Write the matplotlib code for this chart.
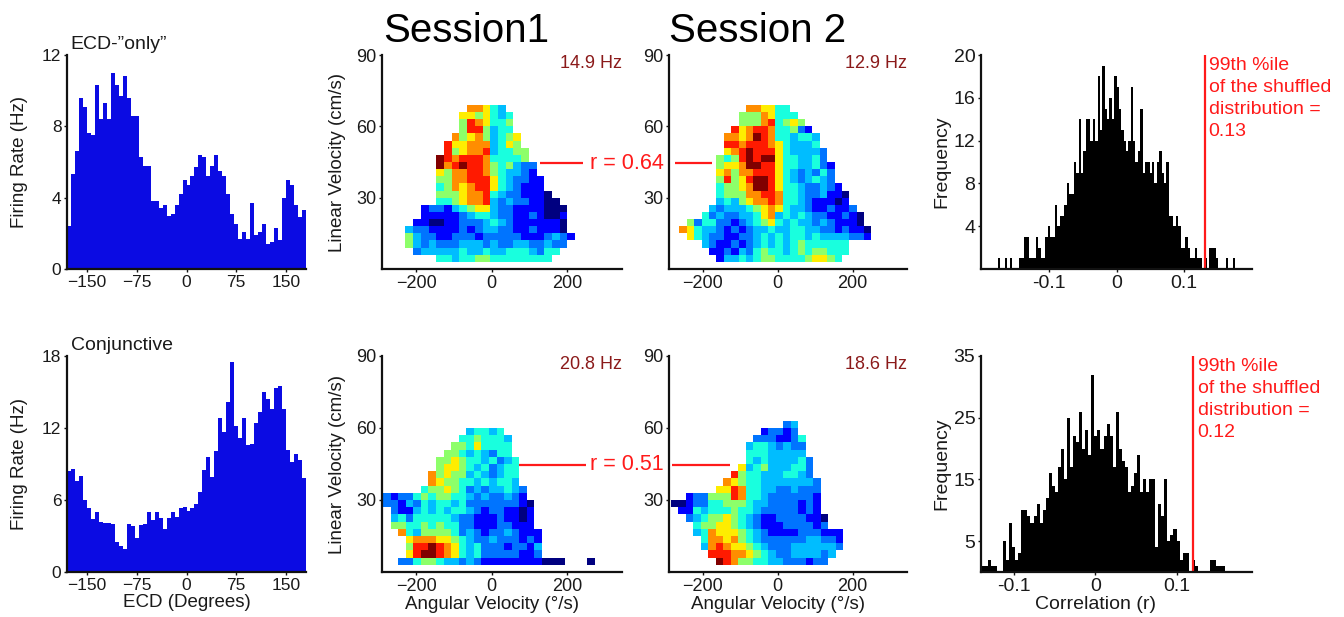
import numpy as np
import matplotlib
matplotlib.use("Agg")
import matplotlib.pyplot as plt

plt.rcParams['font.family'] = ['Liberation Sans', 'DejaVu Sans']

# ---------------- data ----------------
ecd_bin_width = 6  # degrees, 60 bins from -180 to 180
ecd_only_rate = [2.4, 5.3, 6.6, 9.6, 9.1, 7.6, 7.5, 10.3, 8.4, 9.3,
                 8.4, 11.0, 10.3, 9.7, 10.8, 9.6, 8.6, 8.6, 6.3, 5.8,
                 5.8, 3.8, 3.8, 3.4, 3.6, 3.0, 3.1, 3.6, 4.2, 5.0,
                 4.7, 5.2, 5.7, 6.4, 6.3, 5.2, 5.8, 6.4, 5.5, 5.2,
                 4.2, 3.1, 2.5, 1.7, 2.1, 1.7, 3.7, 1.9, 2.1, 2.5,
                 1.4, 1.5, 2.3, 1.6, 4.0, 5.0, 4.7, 3.6, 2.9, 3.3]
conj_rate = [8.4, 8.6, 7.6, 8.0, 6.0, 5.3, 4.4, 5.0, 4.2, 4.1,
             4.1, 4.0, 2.5, 2.2, 1.9, 4.0, 3.8, 2.8, 3.9, 4.0,
             5.0, 4.3, 5.0, 4.5, 3.6, 4.5, 5.0, 4.6, 5.3, 5.4,
             5.1, 5.3, 5.7, 6.7, 8.5, 9.6, 7.9, 10.1, 12.8, 11.7,
             14.2, 17.5, 12.2, 11.2, 12.8, 10.6, 10.7, 12.4, 13.3, 15.0,
             14.4, 13.6, 15.3, 15.5, 13.6, 10.2, 9.2, 9.8, 9.3, 7.8]

# shuffled-correlation histograms (counts per bin)
shuf1_range = (-0.175, 0.175)
shuf1_counts = [1, 0, 0, 1, 0, 1, 0, 0, 0, 1,
                1, 3, 3, 1, 1, 1, 3, 2, 1, 1,
                3, 4, 3, 3, 6, 4, 5, 5, 6, 8,
                7, 7, 10, 9, 14, 9, 11, 14, 14, 12,
                14, 12, 18, 13, 19, 15, 14, 16, 14, 18,
                17, 15, 13, 12, 11, 12, 17, 12, 10, 11,
                15, 9, 10, 10, 9, 10, 8, 10, 11, 9,
                8, 10, 5, 5, 4, 5, 4, 2, 2, 3,
                2, 1, 1, 2, 1, 1, 0, 1, 0, 2,
                2, 2, 1, 0, 0, 0, 1, 0, 0, 1]
shuf2_range = (-0.14, 0.16)
shuf2_counts = [1, 1, 2, 1, 1, 0, 0, 5, 2, 8,
                4, 2, 3, 10, 10, 9, 8, 9, 11, 8,
                10, 12, 16, 14, 13, 17, 20, 15, 25, 17,
                22, 21, 26, 20, 23, 19, 32, 22, 23, 20,
                22, 24, 22, 17, 26, 20, 18, 17, 13, 14,
                16, 19, 13, 15, 13, 15, 15, 4, 11, 9,
                15, 5, 6, 7, 5, 2, 3, 3, 0, 2,
                1, 0, 0, 0, 0, 2, 2, 1, 1, 1]
shuf_99th = [0.13, 0.12]
observed_r = [0.64, 0.51]

# rate maps: colour level (0-9, fraction of peak rate below), rows from top (fast) to bottom (slow)
level_frac = [0.0, 0.12, 0.24, 0.31, 0.38, 0.52, 0.66, 0.76, 0.88, 1.0]
peak_rate = [14.9, 12.9, 20.8, 18.6]
av_left = [-228, -262, -287, -285]      # deg/s, left edge of first column
av_bin = [20.4, 19.7, 20.0, 20.0]       # deg/s per column
lv_top = [69, 69, 60, 63]               # cm/s, top edge of first row
lv_bin = 3

map_ecd_s1 = [(8, "77643"), (7, "6656434"), (7, "5876445"), (7, "5885344"),
              (6, "756753456"), (5, "8667773465"), (5, "85677834455"),
              (4, "987888744445"), (4, "9789887545322"), (4, "6577887543321"),
              (4, "55778886432211"), (4, "45767886432111"), (4, "555677843221110"),
              (4, "4456778323221100"), (2, "1221345663221111000"),
              (2, "1111123443221121001"), (1, "11001122234321111110"),
              (0, "322111121233221121110"), (0, "5322112221222221112321"),
              (0, "532322233323223322322"), (1, "2333334334334443244"),
              (4, "443445544444444")]
map_ecd_s2 = [(9, "776644"), (8, "55576444"), (8, "555784565"), (7, "86788744521"),
              (6, "7767987443443"), (6, "8878887643334"), (6, "67898886433332"),
              (5, "545898996443342"), (5, "5667998864433421"), (5, "6757788864323242"),
              (5, "5856899864323432"), (5, "45567998644322321"),
              (5, "455577887443223110"), (5, "343567787443211101"),
              (4, "32333456764332112112"), (3, "4232233467343432211210"),
              (1, "524422123456434332321110"), (0, "76433212123343344332212110"),
              (1, "6432211223434344343333221"), (3, "32112123434345444444"),
              (4, "1121324544345455444"), (5, "13343455444456654")]
map_conj_s1 = [(11, "34434"), (10, "4454443"), (9, "55464444"), (8, "554343244"),
               (7, "55654434234"), (7, "56654342344"), (6, "756553432344"),
               (6, "765544343443"), (5, "45565423233432"),
               (0, "2122454554432322321"), (0, "22132434434222222210"),
               (1, "2113434344321221101"), (1, "3424444432211121101"),
               (1, "5544545442211122111"), (2, "7435555423212232111"),
               (3, "677766543223222121"), (3, "588987643422212213"),
               (3, "689987643422222112"), (2, "2245543323211111111000...0")]
map_conj_s2 = [(15, "23"), (12, "12212"), (11, "2221124"), (10, "34432322"),
               (10, "44433333"), (10, "434333342"), (9, "6345333442"),
               (8, "85443334432"), (7, "7654433333332"), (6, "66874433223222"),
               (2, "122555874432222221"), (0, "00122445554332222121"),
               (1, "1143444544322222121"), (2, "2345565432112222110"),
               (3, "455665432111222212"), (3, "34766654321111222111"),
               (4, "4776754322222233221"), (4, "3787665432223333332"),
               (5, "88877654322333323"), (6, "987554433222122")]
rate_maps = [map_ecd_s1, map_ecd_s2, map_conj_s1, map_conj_s2]

# ---------------- figure ----------------
W, H = 1344, 617
fig = plt.figure(figsize=(W / 100, H / 100), dpi=100)

def add_ax(l, t, w, h):
    return fig.add_axes([l / W, 1 - (t + h) / H, w / W, h / H])

col_l = [67, 382, 669, 981]
col_w = [239, 240, 238, 271]
row_t = [55, 356]
row_h = [214, 216]

TXT = '#1a1a1a'

def style(ax, tick_size):
    for s in ['top', 'right']:
        ax.spines[s].set_visible(False)
    for s in ['left', 'bottom']:
        ax.spines[s].set_linewidth(1.6)
        ax.spines[s].set_color('#111111')
    ax.tick_params(direction='out', length=2.5, width=1, labelsize=tick_size,
                   colors='#111111', labelcolor=TXT, pad=1.5)

axes = [[add_ax(col_l[c], row_t[r], col_w[c], row_h[r]) for c in range(4)] for r in range(2)]

# ECD firing-rate histograms
blue = '#0b0be3'
ecd_sets = [(ecd_only_rate, 12, [0, 4, 8, 12], 'ECD-\u201donly\u201d'),
            (conj_rate, 18, [0, 6, 12, 18], 'Conjunctive')]
for r, (vals, ymax, yt, name) in enumerate(ecd_sets):
    ax = axes[r][0]
    edges = np.arange(-180, 180 + ecd_bin_width, ecd_bin_width)
    ax.stairs(vals, edges, fill=True, color=blue, linewidth=0)
    ax.set_xlim(-180, 180)
    ax.set_ylim(0, ymax)
    ax.set_xticks([-150, -75, 0, 75, 150])
    ax.set_yticks(yt)
    style(ax, 12.5)
    ax.set_ylabel('Firing Rate (Hz)', fontsize=13.5, color=TXT)
    ax.yaxis.set_label_coords(-0.165, 0.5)
    ax.text(0.015, 1.03, name, transform=ax.transAxes, fontsize=14,
            color=TXT, ha='left', va='baseline')
axes[1][0].set_xlabel('ECD (Degrees)', fontsize=13.5, color=TXT, va='top')
axes[1][0].xaxis.set_label_coords(0.5, -0.1)

# rate maps
jet = plt.get_cmap('jet')
for i, rows in enumerate(rate_maps):
    r, c = divmod(i, 2)
    ax = axes[r][c + 1]
    ncols = max(s + len(txt) for s, txt in rows)
    nrows = len(rows)
    grid = np.full((nrows, ncols), np.nan)
    for k, (s, txt) in enumerate(rows):
        for j, ch in enumerate(txt):
            if ch != '.':
                grid[k, s + j] = level_frac[int(ch)] * peak_rate[i]
    grid = grid[::-1]
    xe = av_left[i] + av_bin[i] * np.arange(ncols + 1)
    ye = (lv_top[i] - lv_bin * nrows) + lv_bin * np.arange(nrows + 1)
    ax.pcolormesh(xe, ye, np.ma.masked_invalid(grid), cmap=jet,
                  vmin=0, vmax=peak_rate[i], shading='flat', edgecolors='none')
    ax.set_xlim(-290, 345)
    ax.set_ylim(0, 90)
    ax.set_xticks([-200, 0, 200])
    ax.set_yticks([30, 60, 90])
    style(ax, 13)
    ax.text(1.0, 1.0, f'{peak_rate[i]:.1f} Hz', transform=ax.transAxes,
            ha='right', va='top', fontsize=13, color='#8b1a1a')
    if c == 0:
        ax.set_ylabel('Linear Velocity (cm/s)', fontsize=13.5, color=TXT)
        ax.yaxis.set_label_coords(-0.148, 0.5)
    if r == 1:
        ax.set_xlabel('Angular Velocity (\u00b0/s)', fontsize=13.5, color=TXT, va='top')
        ax.xaxis.set_label_coords((0 + 290) / 635, -0.11)

# titles
fig.text(466 / W, 1 - 41.7 / H, 'Session1', fontsize=29, ha='center', va='baseline', color='black')
fig.text(758 / W, 1 - 41.7 / H, 'Session 2', fontsize=29, ha='center', va='baseline', color='black')

# correlation connectors between sessions
red = '#ff1a1a'
conn = [((129, 242), (-275, -176), 44.5, 627 / W, 163.3),
        ((72, 250), (-282, -127), 44.7, 627 / W, 464)]
for r, (seg1, seg2, yv, tx, ty) in enumerate(conn):
    a1, a2 = axes[r][1], axes[r][2]
    a1.plot(seg1, [yv, yv], color=red, lw=1.6, clip_on=False, solid_capstyle='butt')
    a2.plot(seg2, [yv, yv], color=red, lw=1.6, clip_on=False, solid_capstyle='butt')
    fig.text(tx, 1 - ty / H, f'r = {observed_r[r]:.2f}', fontsize=15.5, color=red,
             ha='center', va='center')

# shuffled distributions
hist_sets = [(shuf1_counts, shuf1_range, (-0.2, 0.2), (0, 20), [4, 8, 12, 16, 20]),
             (shuf2_counts, shuf2_range, (-0.141, 0.193), (0, 35), [5, 15, 25, 35])]
for r, (cnt, rng, xl, yl, yt) in enumerate(hist_sets):
    ax = axes[r][3]
    edges = np.linspace(rng[0], rng[1], len(cnt) + 1)
    ax.stairs(cnt, edges, fill=True, color='black', linewidth=0)
    ax.axvline(shuf_99th[r], color=red, lw=1.6)
    ax.set_xlim(*xl)
    ax.set_ylim(*yl)
    ax.set_xticks([-0.1, 0, 0.1])
    ax.set_xticklabels(['-0.1', '0', '0.1'])
    ax.set_yticks(yt)
    style(ax, 14)
    ax.set_ylabel('Frequency', fontsize=14, color=TXT)
    ax.yaxis.set_label_coords(-0.112, 0.5)
    ax.text(shuf_99th[r] + 0.006, yl[1] * 0.99,
            f'99th %ile\nof the shuffled\ndistribution =\n{shuf_99th[r]:.2f}',
            fontsize=14, color=red, ha='left', va='top', linespacing=1.38)
axes[1][3].set_xlabel('Correlation (r)', fontsize=14, color=TXT, va='top')
axes[1][3].xaxis.set_label_coords((0 + 0.141) / 0.334, -0.11)

fig.savefig('out.png', dpi=100)
